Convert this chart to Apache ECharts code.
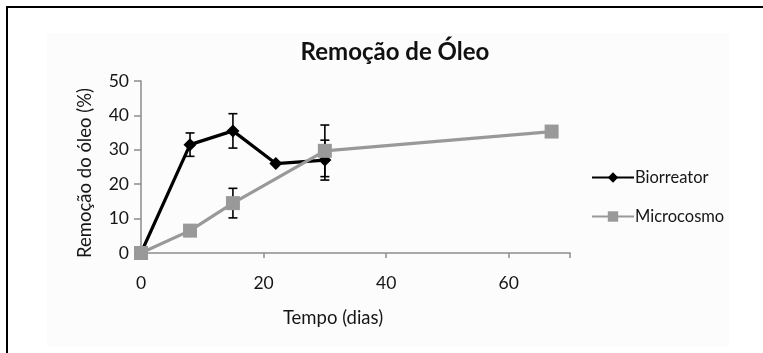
<!DOCTYPE html>
<html>
<head>
<meta charset="utf-8">
<script src="https://cdn.jsdelivr.net/npm/echarts@6/dist/echarts.min.js"></script>
<style>
  html, body { margin: 0; padding: 0; background: #fff; }
  #chart { width: 763px; height: 353px; }
</style>
</head>
<body>
<div id="chart"></div>
<script>
// Oil removal (%) over time (days) for two treatments
const bioDays  = [0, 8, 15, 22, 30];
const bioVals  = [0, 31.5, 35.5, 26, 27];
const bioErr   = [0, 3.4, 5, 0, 5.8];

const microDays = [0, 8, 15, 30, 67];
const microVals = [0, 6.5, 14.5, 29.7, 35.3];
const microErr  = [0, 1, 4.3, 7.5, 0];

const seriesNames = ['Biorreator', 'Microcosmo'];
const xTicks = [0, 20, 40, 60];
const yTicks = [0, 10, 20, 30, 40, 50];

const FONT = 'Lato';
const TEXT = '#161616';
const AXIS = '#8c8c8c';

function pairs(xs, ys) { return xs.map((x, i) => [x, ys[i]]); }
function errRows(xs, ys, es) {
  return xs.map((x, i) => [x, ys[i] - es[i], ys[i] + es[i]]).filter((r, i) => es[i] > 0);
}

function renderErr(params, api) {
  const x = api.value(0), lo = api.value(1), hi = api.value(2);
  const top = api.coord([x, hi]);
  const bot = api.coord([x, lo]);
  const cap = 4.5;
  const st = { stroke: '#000', lineWidth: 1.6 };
  return {
    type: 'group',
    children: [
      { type: 'line', shape: { x1: top[0], y1: top[1], x2: bot[0], y2: bot[1] }, style: st },
      { type: 'line', shape: { x1: top[0] - cap, y1: top[1], x2: top[0] + cap, y2: top[1] }, style: st },
      { type: 'line', shape: { x1: bot[0] - cap, y1: bot[1], x2: bot[0] + cap, y2: bot[1] }, style: st }
    ]
  };
}

const chart = echarts.init(document.getElementById('chart'), null, { renderer: 'canvas' });

chart.setOption({
  backgroundColor: '#fff',
  animation: false,
  textStyle: { fontFamily: FONT, color: TEXT },
  graphic: [
    { type: 'rect', z: -10, shape: { x: 47, y: 33, width: 682, height: 314 }, style: { fill: '#fcfcfc' } },
    { type: 'polyline', z: 10, shape: { points: [[7, 353], [7, 7], [763, 7]] }, style: { stroke: '#000', lineWidth: 2, fill: null } }
  ],
  title: {
    text: 'Remoção de Óleo',
    left: 390, top: 35, textAlign: 'center',
    textStyle: { fontFamily: FONT, fontSize: 24, fontWeight: 'bold', color: '#111' }
  },
  legend: {
    data: seriesNames,
    orient: 'vertical',
    left: 586, top: 164,
    itemWidth: 42, itemHeight: 13, itemGap: 22,
    textStyle: { fontFamily: FONT, fontSize: 16.5, color: TEXT, padding: [0, 0, 0, -4] }
  },
  grid: { left: 141, top: 81, width: 429, height: 172, containLabel: false },
  xAxis: {
    type: 'value', min: 0, max: 70, interval: 20,
    name: 'Tempo (dias)', nameLocation: 'middle', nameGap: 56,
    nameTextStyle: { fontFamily: FONT, fontSize: 18.5, color: TEXT, padding: [0, 45, 0, 0] },
    axisLine: { lineStyle: { color: AXIS, width: 1.5 } },
    axisTick: { show: true, length: 5, lineStyle: { color: AXIS, width: 1.5 } },
    axisLabel: { fontFamily: FONT, fontSize: 17.5, color: TEXT, margin: 21,
      formatter: v => xTicks.includes(v) ? String(v) : '' },
    splitLine: { show: false }
  },
  yAxis: {
    type: 'value', min: 0, max: 50, interval: 10,
    name: 'Remoção do óleo (%)', nameLocation: 'middle', nameGap: 46, nameRotate: 90,
    nameTextStyle: { fontFamily: FONT, fontSize: 18.5, color: TEXT, padding: [0, 12, 0, 0] },
    axisLine: { show: true, lineStyle: { color: AXIS, width: 1.5 } },
    axisTick: { show: true, length: 7, lineStyle: { color: AXIS, width: 1.5 } },
    axisLabel: { fontFamily: FONT, fontSize: 17.5, color: TEXT, margin: 12,
      formatter: v => yTicks.includes(v) ? String(v) : '' },
    splitLine: { show: false }
  },
  series: [
    {
      type: 'custom', name: 'errBio', z: 2, silent: true,
      renderItem: renderErr, encode: { x: 0, y: [1, 2] },
      data: errRows(bioDays, bioVals, bioErr)
    },
    {
      type: 'line', name: seriesNames[0], z: 3,
      data: pairs(bioDays, bioVals),
      symbol: 'diamond', symbolSize: 13,
      itemStyle: { color: '#000' },
      lineStyle: { color: '#000', width: 3.2 }
    },
    {
      type: 'custom', name: 'errMicro', z: 4, silent: true,
      renderItem: renderErr, encode: { x: 0, y: [1, 2] },
      data: errRows(microDays, microVals, microErr)
    },
    {
      type: 'line', name: seriesNames[1], z: 5,
      data: pairs(microDays, microVals),
      symbol: 'rect', symbolSize: 14,
      itemStyle: { color: '#999' },
      lineStyle: { color: '#999', width: 3.2 }
    }
  ]
});
</script>
</body>
</html>
